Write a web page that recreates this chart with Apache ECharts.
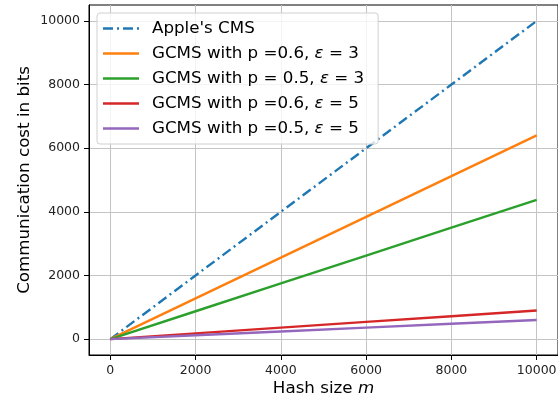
<!DOCTYPE html>
<html>
<head>
<meta charset="utf-8">
<script src="https://cdn.jsdelivr.net/npm/echarts@6/dist/echarts.min.js"></script>
<style>
  html, body { margin: 0; padding: 0; background: #fff; }
  #chart { width: 558px; height: 400px; }
</style>
</head>
<body>
<div id="chart"></div>
<script>
// hash size m
var hashSizes = [0, 2000, 4000, 6000, 8000, 10000];
// communication cost in bits
var appleCms = [0, 2000, 4000, 6000, 8000, 10000];
var gcmsP06E3 = [0, 1280, 2560, 3840, 5120, 6400];
var gcmsP05E3 = [0, 875, 1750, 2625, 3500, 4375];
var gcmsP06E5 = [0, 180, 360, 540, 720, 900];
var gcmsP05E5 = [0, 120, 240, 360, 480, 600];
var tickValues = [0, 2000, 4000, 6000, 8000, 10000];
var seriesNames = [
  "Apple's CMS",
  "GCMS with p =0.6, {it|ε} = 3",
  "GCMS with p = 0.5, {it|ε} = 3",
  "GCMS with p =0.6, {it|ε} = 5",
  "GCMS with p =0.5, {it|ε} = 5"
];
var colors = ["#1f77b4", "#ff7f0e", "#2ca02c", "#d62728", "#9467bd"];

var dashDot = [10, 4, 2, 4];
// legend handles: solid bar, and dash-dot bar for Apple's CMS
var solidIcon = "path://M0,0h36v2.4h-36z";
var dashDotIcon = "path://M0,0h10v2.4h-10z M14,0h2v2.4h-2z M20,0h10v2.4h-10z M34,0h2v2.4h-2z";

function pairs(ys) {
  return hashSizes.map(function (x, i) { return [x, ys[i]]; });
}

var allValues = [appleCms, gcmsP06E3, gcmsP05E3, gcmsP06E5, gcmsP05E5];

var mychart = echarts.init(document.getElementById("chart"));
var font = "DejaVu Sans";
var big = 16.7;

var series = allValues.map(function (ys, i) {
  return {
    name: seriesNames[i],
    type: "line",
    data: pairs(ys),
    symbol: "none",
    animation: false,
    lineStyle: {
      color: colors[i],
      width: 2.4,
      type: i === 0 ? dashDot : "solid"
    },
    itemStyle: { color: colors[i] }
  };
});

function axisCommon() {
  return {
    type: "value",
    min: -500,
    max: 10500,
    nameMoveOverlap: false,
    axisLine: { show: true, onZero: false, lineStyle: { color: "#000", width: 1 } },
    axisTick: {
      show: true,
      inside: false,
      length: 5,
      customValues: tickValues,
      lineStyle: { color: "#000", width: 1 }
    },
    axisLabel: {
      customValues: tickValues,
      color: "#222",
      fontFamily: font,
      fontSize: 12.5,
      margin: 9,
      formatter: function (v) { return String(v); }
    },
    splitLine: { show: true, lineStyle: { color: "#c4c4c4", width: 1 } }
  };
}

var xAxis = axisCommon();
xAxis.name = "Hash size {it|m}";
xAxis.nameLocation = "middle";
xAxis.nameGap = 25;
xAxis.nameTextStyle = {
  color: "#000", fontFamily: font, fontSize: big,
  rich: { it: { fontStyle: "italic", fontFamily: font, fontSize: big, color: "#000" } }
};

var yAxis = axisCommon();
yAxis.name = "Communication cost in bits";
yAxis.nameLocation = "middle";
yAxis.nameGap = 56;
yAxis.nameTextStyle = { color: "#000", fontFamily: font, fontSize: big };

mychart.setOption({
  animation: false,
  grid: {
    left: 89,
    top: 5,
    right: 0,
    bottom: 45,
    outerBoundsMode: "none",
    show: true,
    borderColor: "#000",
    borderWidth: 1,
    backgroundColor: "transparent"
  },
  xAxis: xAxis,
  yAxis: yAxis,
  legend: {
    orient: "vertical",
    left: 97,
    top: 13,
    padding: [7, 14, 7, 6],
    itemWidth: 36,
    itemHeight: 14,
    itemGap: 8,
    backgroundColor: "rgba(255,255,255,0.8)",
    borderColor: "#d0d0d0",
    borderWidth: 1,
    borderRadius: 3,
    textStyle: {
      color: "#000",
      fontFamily: font,
      fontSize: big,
      padding: [0, 0, 0, 8],
      rich: { it: { fontStyle: "italic", fontFamily: font, fontSize: big, color: "#000" } }
    },
    data: seriesNames.map(function (n, i) {
      return { name: n, icon: i === 0 ? dashDotIcon : solidIcon };
    })
  },
  series: series
});
</script>
</body>
</html>
